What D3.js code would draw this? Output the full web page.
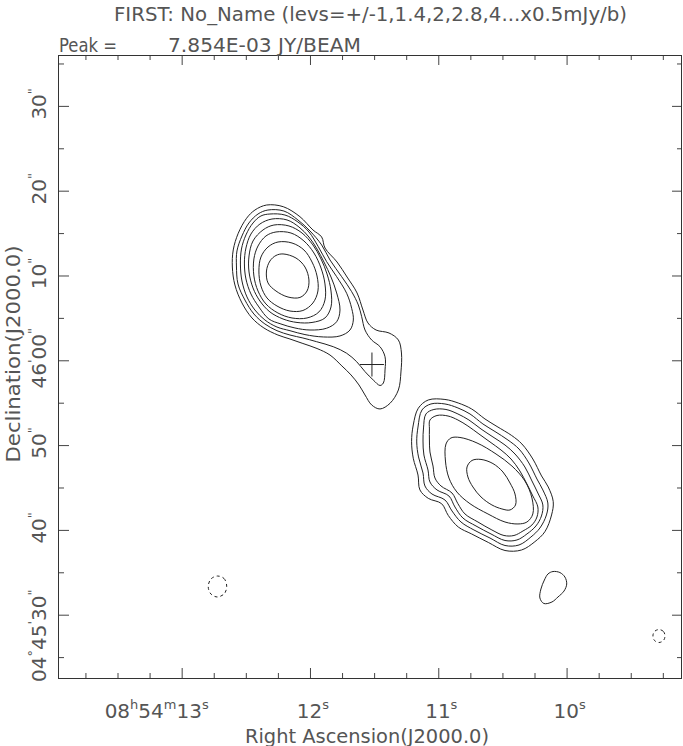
<!DOCTYPE html>
<html><head><meta charset="utf-8">
<script src="https://cdn.jsdelivr.net/npm/d3@7"></script>
<style>body{margin:0;background:#fff}svg{display:block}</style>
</head><body>
<svg id="chart" width="683" height="746"></svg>
<script>
// ---------------- DATA ----------------
const titleText = "FIRST: No_Name (levs=+/-1,1.4,2,2.8,4...x0.5mJy/b)";
const peakLabel = "Peak =";
const peakValue = "7.854E-03 JY/BEAM";
const xTitle = "Right Ascension(J2000.0)";
const yTitle = "Declination(J2000.0)";
const contourLevels = [0.5, 0.7, 1.0, 1.4, 2.0, 2.8, 4.0, 5.6]; // mJy/beam

// RA: seconds after 08h54m ; Dec: arcsec after +04d45m00s
const raMajorTicks = [13, 12, 11, 10];
const raMinorTicks = [13.75, 13.5, 13.25, 12.75, 12.5, 12.25, 11.75, 11.5, 11.25, 10.75, 10.5, 10.25, 9.75, 9.5, 9.25];
const raTickLabels = ["08^h54^m13^s", "12^s", "11^s", "10^s"];
const decMajorTicks = [30, 40, 50, 60, 70, 80, 90];
const decMinorTicks = [25, 35, 45, 55, 65, 75, 85, 95];
const decTickLabels = ["04^°45^'30^\"", "40^\"", "50^\"", "46^'00^\"", "10^\"", "20^\"", "30^\""];

// FIRST catalogue / cross marker position
const markerPos = [11.517, 59.50];

// northern lobe contours (outer -> inner), [RA s, Dec arcsec]
const northC1 = [[12.338,78.31],[12.208,78.11],[12.078,76.93],[11.977,75.37],[11.909,74.54],[11.883,73.24],[11.789,71.59],[11.711,69.82],[11.633,67.94],[11.587,65.93],[11.548,64.40],[11.485,63.57],[11.384,63.22],[11.311,62.39],[11.287,60.86],[11.291,58.62],[11.311,56.50],[11.376,54.93],[11.454,54.26],[11.519,54.73],[11.571,55.91],[11.618,57.09],[11.680,58.27],[11.751,59.33],[11.844,60.62],[11.945,61.39],[12.055,61.98],[12.156,62.51],[12.250,62.98],[12.359,63.81],[12.452,64.99],[12.530,66.76],[12.585,68.88],[12.605,71.00],[12.598,73.01],[12.559,74.98],[12.494,76.75],[12.429,77.72]];
const northC2 = [[12.328,77.72],[12.203,77.60],[12.094,76.55],[12.000,75.25],[11.909,73.60],[11.844,71.83],[11.753,69.86],[11.675,68.09],[11.623,66.52],[11.597,65.14],[11.571,63.57],[11.519,62.39],[11.454,61.60],[11.415,60.42],[11.415,58.86],[11.428,57.32],[11.454,57.03],[11.507,57.68],[11.571,58.66],[11.636,59.83],[11.714,60.83],[11.818,61.60],[11.948,62.19],[12.055,62.63],[12.156,62.98],[12.257,63.49],[12.351,64.28],[12.437,65.46],[12.507,67.11],[12.561,69.00],[12.573,71.12],[12.569,72.89],[12.530,74.66],[12.476,76.19],[12.405,77.25]];
const northC3 = [[12.312,77.25],[12.195,77.13],[12.094,76.31],[12.008,75.13],[11.935,73.39],[11.870,71.63],[11.792,69.86],[11.714,67.90],[11.675,66.13],[11.662,64.75],[11.688,63.57],[11.766,62.87],[11.896,62.75],[12.039,63.03],[12.156,63.49],[12.257,63.92],[12.351,64.75],[12.429,65.93],[12.491,67.47],[12.530,69.35],[12.542,71.24],[12.534,73.12],[12.499,74.78],[12.444,76.19],[12.382,77.02]];
const northC4 = [[12.296,76.66],[12.179,76.55],[12.086,75.72],[12.008,74.54],[11.945,73.12],[11.891,71.59],[11.836,69.82],[11.792,67.94],[11.766,65.93],[11.792,64.55],[11.870,63.78],[12.000,63.57],[12.117,63.81],[12.226,64.28],[12.320,64.87],[12.398,66.29],[12.460,67.82],[12.499,69.59],[12.511,71.47],[12.499,73.24],[12.460,74.89],[12.390,76.07]];
const northC5 = [[12.281,75.95],[12.164,75.84],[12.062,75.01],[11.977,73.60],[11.914,71.95],[11.867,70.18],[11.836,68.17],[11.836,66.29],[11.883,64.99],[11.984,64.46],[12.101,64.46],[12.210,64.87],[12.312,65.70],[12.390,66.99],[12.444,68.53],[12.475,70.41],[12.475,72.30],[12.444,74.07],[12.366,75.37]];
const northC6 = [[12.265,75.13],[12.148,75.01],[12.047,74.07],[11.969,72.65],[11.914,70.88],[11.883,69.00],[11.883,67.11],[11.930,65.70],[12.023,64.99],[12.140,64.99],[12.250,65.58],[12.343,66.64],[12.405,68.17],[12.437,69.94],[12.437,71.95],[12.405,73.48],[12.343,74.66]];
const northC7 = [[12.249,73.95],[12.140,73.83],[12.047,73.01],[11.984,71.59],[11.945,69.94],[11.938,68.17],[11.977,66.76],[12.055,65.87],[12.156,65.81],[12.257,66.40],[12.335,67.35],[12.382,68.76],[12.398,70.53],[12.382,72.18],[12.327,73.36]];
const northC8 = [[12.210,72.54],[12.109,72.06],[12.039,71.00],[12.008,69.47],[12.023,68.17],[12.078,67.41],[12.171,67.46],[12.265,68.17],[12.327,69.12],[12.339,70.53],[12.312,71.71],[12.265,72.36]];

// southern lobe contours (outer -> inner)
const southC1 = [[11.156,54.34],[11.078,55.32],[10.948,55.38],[10.844,54.96],[10.740,54.26],[10.636,53.08],[10.542,52.19],[10.428,51.13],[10.348,50.13],[10.263,48.36],[10.195,46.36],[10.143,45.06],[10.104,43.33],[10.117,41.76],[10.169,39.79],[10.247,38.61],[10.351,37.63],[10.480,37.57],[10.610,38.52],[10.740,39.52],[10.844,40.34],[10.922,41.70],[10.974,43.09],[11.078,43.72],[11.143,44.71],[11.158,46.47],[11.195,48.45],[11.208,50.40],[11.195,52.37]];
const southC2 = [[11.127,54.14],[11.057,54.85],[10.948,54.85],[10.847,54.38],[10.753,53.67],[10.652,52.49],[10.558,51.60],[10.457,50.60],[10.371,49.54],[10.294,47.89],[10.231,46.00],[10.185,44.71],[10.146,43.17],[10.157,41.76],[10.208,40.22],[10.278,39.16],[10.371,38.22],[10.480,38.16],[10.597,39.04],[10.722,39.99],[10.823,40.93],[10.893,42.23],[10.948,43.53],[11.049,44.23],[11.104,45.18],[11.119,46.71],[11.154,48.60],[11.168,50.37],[11.158,52.13]];
const southC3 = [[11.096,53.67],[11.034,54.20],[10.940,54.20],[10.847,53.67],[10.761,52.96],[10.667,51.90],[10.574,50.96],[10.480,50.01],[10.402,48.95],[10.325,47.42],[10.270,45.77],[10.224,44.35],[10.185,42.94],[10.196,41.64],[10.239,40.46],[10.309,39.52],[10.387,38.81],[10.480,38.75],[10.589,39.52],[10.706,40.46],[10.808,41.40],[10.870,42.70],[10.917,44.00],[11.010,44.71],[11.065,45.65],[11.080,47.06],[11.112,48.83],[11.119,50.48],[11.115,52.02]];
const southC4 = [[11.065,52.96],[11.010,53.49],[10.924,53.43],[10.847,52.96],[10.769,52.25],[10.683,51.31],[10.597,50.37],[10.511,49.42],[10.433,48.36],[10.364,46.95],[10.309,45.41],[10.263,44.00],[10.224,42.70],[10.231,41.52],[10.270,40.58],[10.340,39.87],[10.410,39.34],[10.488,39.34],[10.582,39.99],[10.691,40.93],[10.792,41.88],[10.847,43.09],[10.893,44.35],[10.979,45.18],[11.026,46.12],[11.041,47.53],[11.065,49.19],[11.069,50.60],[11.069,51.90]];
const southC5 = [[10.940,50.13],[10.901,50.84],[10.831,50.90],[10.698,50.25],[10.550,48.95],[10.426,47.53],[10.325,45.77],[10.270,43.76],[10.263,41.88],[10.309,40.93],[10.379,40.70],[10.480,40.93],[10.613,41.88],[10.753,43.09],[10.855,44.47],[10.917,46.12],[10.944,48.12]];
const southC6 = [[10.776,47.42],[10.737,48.19],[10.667,48.31],[10.574,47.82],[10.496,46.83],[10.441,45.53],[10.402,44.23],[10.398,42.94],[10.441,42.35],[10.504,42.47],[10.582,42.94],[10.667,43.88],[10.730,45.06],[10.769,46.24]];

// small positive blob south of the southern lobe
const blobC1 = [[10.106,35.09],[10.052,34.97],[10.013,34.44],[9.999,33.62],[10.020,32.79],[10.067,32.09],[10.114,31.50],[10.177,31.32],[10.208,31.97],[10.200,33.03],[10.173,34.09],[10.145,34.80]];

// negative (-0.5 mJy) contours
const negA = [[12.721,34.56],[12.670,34.27],[12.649,33.38],[12.666,32.50],[12.721,32.09],[12.772,32.44],[12.793,33.32],[12.772,34.21]];
const negB = [[9.280,28.25],[9.245,28.02],[9.233,27.49],[9.245,26.96],[9.280,26.72],[9.315,26.96],[9.327,27.49],[9.315,28.02]];

const positiveContours = [northC1,northC2,northC3,northC4,northC5,northC6,northC7,northC8,
                          southC1,southC2,southC3,southC4,southC5,southC6,blobC1];
const negativeContours = [negA, negB];

// ---------------- DRAWING ----------------
const FONT = "'DejaVu Sans', sans-serif";
const TXT = "#555";
const svg = d3.select("#chart");
const frame = {left: 59, right: 682, top: 55, bottom: 678};

const x = d3.scaleLinear().domain([13.956, 9.1005]).range([frame.left, frame.right]);
const y = d3.scaleLinear().domain([22.535, 96.0]).range([frame.bottom, frame.top]);

svg.append("clipPath").attr("id","clip").append("rect")
  .attr("x",frame.left).attr("y",frame.top)
  .attr("width",frame.right-frame.left).attr("height",frame.bottom-frame.top);

const line = d3.line().x(d=>x(d[0])).y(d=>y(d[1])).curve(d3.curveCatmullRomClosed.alpha(0.5));
const g = svg.append("g").attr("clip-path","url(#clip)");
g.selectAll("path.pos").data(positiveContours).join("path").attr("class","pos")
  .attr("d",line).attr("fill","none").attr("stroke","#222").attr("stroke-width",1);
g.selectAll("path.neg").data(negativeContours).join("path").attr("class","neg")
  .attr("d",line).attr("fill","none").attr("stroke","#222").attr("stroke-width",1)
  .attr("stroke-dasharray","3,3");

// cross marker
const arm = 12;
g.append("line").attr("x1",x(markerPos[0])-arm).attr("x2",x(markerPos[0])+arm)
  .attr("y1",y(markerPos[1])).attr("y2",y(markerPos[1])).attr("stroke","#222");
g.append("line").attr("x1",x(markerPos[0])).attr("x2",x(markerPos[0]))
  .attr("y1",y(markerPos[1])-arm).attr("y2",y(markerPos[1])+arm).attr("stroke","#222");

// ticks via d3 axes (inward)
function ticks(axisFn, scale, vals, size, tx, ty){
  const a = axisFn(scale).tickValues(vals).tickSize(-size).tickFormat("");
  const gg = svg.append("g").attr("transform",`translate(${tx},${ty})`).call(a);
  gg.select(".domain").remove();
  gg.selectAll("line").attr("stroke","#444");
}
ticks(d3.axisBottom, x, raMajorTicks, 10, 0, frame.bottom);
ticks(d3.axisBottom, x, raMinorTicks, 5, 0, frame.bottom);
ticks(d3.axisTop, x, raMajorTicks, 10, 0, frame.top);
ticks(d3.axisTop, x, raMinorTicks, 5, 0, frame.top);
ticks(d3.axisLeft, y, decMajorTicks, 10, frame.left, 0);
ticks(d3.axisLeft, y, decMinorTicks, 5, frame.left, 0);
ticks(d3.axisRight, y, decMajorTicks, 10, frame.right, 0);
ticks(d3.axisRight, y, decMinorTicks, 5, frame.right, 0);

// frame
svg.append("rect").attr("x",frame.left-0.5).attr("y",frame.top+0.5)
  .attr("width",frame.right-frame.left).attr("height",frame.bottom-frame.top)
  .attr("fill","none").attr("stroke","#333").attr("stroke-width",1);

// label helper with superscripts (char after ^ is superscript)
function fillLabel(t, str, supSize, supDy){
  const parts=[]; let buf="";
  for(let k=0;k<str.length;k++){
    if(str[k]==="^"){ if(buf) parts.push([buf,false]); buf=""; parts.push([str[k+1],true]); k++; }
    else buf+=str[k];
  }
  if(buf) parts.push([buf,false]);
  let raised=false;
  parts.forEach(([s,sup])=>{
    const ts=t.append("tspan").text(s);
    if(sup){ ts.attr("font-size",supSize).attr("dy",raised?0:-supDy); raised=true; }
    else { if(raised) ts.attr("dy",supDy); raised=false; }
  });
}

// RA tick labels
raMajorTicks.forEach((v,i)=>{
  const shift = i===0 ? -25 : 3;
  const t = svg.append("text").attr("x",x(v)+shift).attr("y",718)
    .attr("text-anchor","middle").attr("font-family",FONT).attr("font-size",20)
    .attr("fill",TXT);
  fillLabel(t, raTickLabels[i], 13, 9);
});
// Dec tick labels (rotated)
decMajorTicks.forEach((v,i)=>{
  const shift = i===0 ? 21 : -2;
  const t = svg.append("text").attr("transform",`translate(46,${y(v)+shift}) rotate(-90)`)
    .attr("text-anchor","middle").attr("font-family",FONT).attr("font-size",20)
    .attr("fill",TXT);
  fillLabel(t, decTickLabels[i], 13, 9);
});

// titles
svg.append("text").attr("x",114).attr("y",21).attr("font-family",FONT).attr("font-size",20)
  .attr("fill",TXT).attr("textLength",513).attr("lengthAdjust","spacingAndGlyphs").text(titleText);
svg.append("text").attr("x",59).attr("y",52).attr("font-family",FONT).attr("font-size",20)
  .attr("fill",TXT).attr("textLength",58).attr("lengthAdjust","spacingAndGlyphs").text(peakLabel);
svg.append("text").attr("x",168).attr("y",52).attr("font-family",FONT).attr("font-size",20)
  .attr("fill",TXT).attr("textLength",193).attr("lengthAdjust","spacingAndGlyphs").text(peakValue);
svg.append("text").attr("x",367).attr("y",743).attr("text-anchor","middle").attr("font-family",FONT)
  .attr("font-size",19).attr("fill",TXT).attr("textLength",244).attr("lengthAdjust","spacingAndGlyphs").text(xTitle);
svg.append("text").attr("transform","translate(20,354) rotate(-90)").attr("text-anchor","middle")
  .attr("font-family",FONT).attr("font-size",20).attr("fill",TXT)
  .attr("textLength",217).attr("lengthAdjust","spacingAndGlyphs").text(yTitle);
</script>
</body></html>
